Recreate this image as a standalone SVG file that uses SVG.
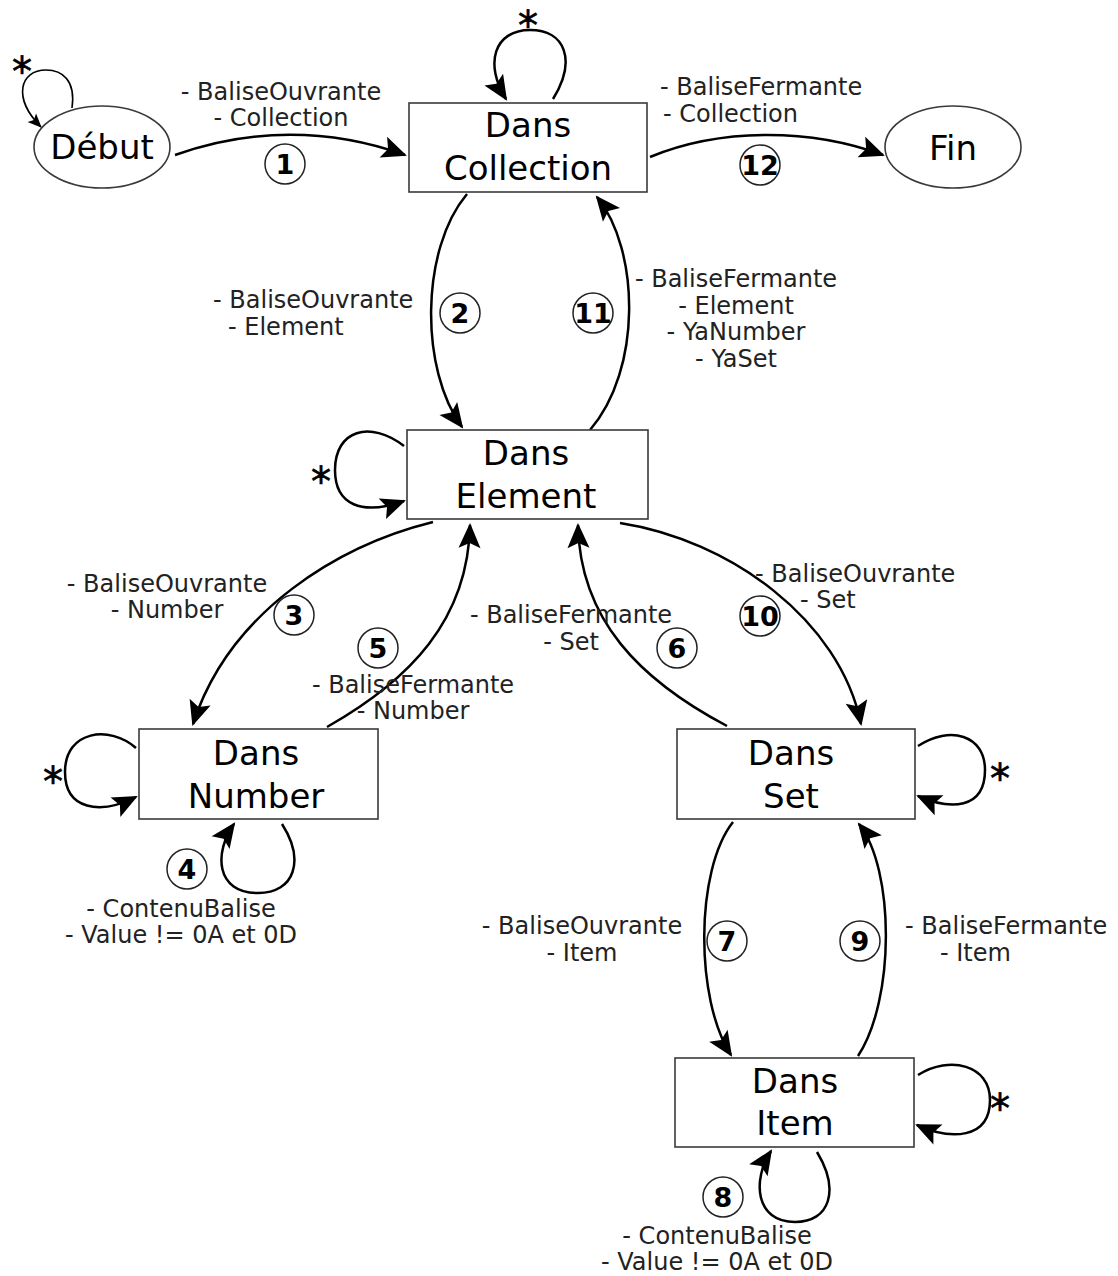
<svg xmlns="http://www.w3.org/2000/svg" width="1118" height="1276" viewBox="0 0 1118 1276">
  <defs>
    <marker id="ah" viewBox="-28 -13 30 26" markerWidth="30" markerHeight="26" refX="-2" refY="0" markerUnits="userSpaceOnUse" orient="auto">
      <path d="M0,0 L-25,-11 L-20,0 L-25,11 Z" fill="#000"/>
    </marker>
    <marker id="ah-s" viewBox="-16 -7 17 14" markerWidth="17" markerHeight="14" refX="-1" refY="0" markerUnits="userSpaceOnUse" orient="auto">
      <path d="M0,0 L-14,-6 L-11,0 L-14,6 Z" fill="#000"/>
    </marker>
    <style>
      .node { fill: #fff; stroke: #3a3a3a; stroke-width: 1.6; }
      .ntext { font-family: "DejaVu Sans", Verdana, sans-serif; font-size: 34px; fill: #000; text-anchor: middle; }
      .edge { fill: none; stroke: #000; stroke-width: 2.5; marker-end: url(#ah); }
      .edge-thin { fill: none; stroke: #000; stroke-width: 1.6; marker-end: url(#ah-s); }
      .lbl { font-family: "DejaVu Sans", Verdana, sans-serif; font-size: 24px; fill: #222; }
      .mid { text-anchor: middle; }
      .num { fill: none; stroke: #222; stroke-width: 1.5; }
      .ntxt { font-family: "DejaVu Sans", Verdana, sans-serif; font-size: 27px; font-weight: bold; fill: #000; text-anchor: middle; }
      .star { font-family: "DejaVu Sans", Verdana, sans-serif; font-size: 40px; fill: #000; text-anchor: middle; stroke: #000; stroke-width: 0.6; }
    </style>
  </defs>
  <rect width="1118" height="1276" fill="#fff"/>

  <!-- connectors -->
  <g id="connectors">
    <!-- Début self loop -->
    <path class="edge-thin" d="M72,108 C76,80 62,70 46,70 C20,70 12,98 41,127"/>
    <!-- 1: Début -> Dans Collection -->
    <path class="edge" d="M175,155 C250,128 330,128 405,155"/>
    <!-- 12: Dans Collection -> Fin -->
    <path class="edge" d="M650,157 C720,128 810,128 883,155"/>
    <!-- Dans Collection self loop -->
    <path class="edge" d="M553,99 C577,60 565,30 530,30 C494,30 484,64 506,99"/>
    <!-- 2: Dans Collection -> Dans Element -->
    <path class="edge" d="M467,194 C420,250 420,370 462,427"/>
    <!-- 11: Dans Element -> Dans Collection -->
    <path class="edge" d="M590,430 C642,370 640,250 597,197"/>
    <!-- Dans Element self loop -->
    <path class="edge" d="M404,446 C370,420 335,430 335,470 C335,505 362,516 404,501"/>
    <!-- 3: Dans Element -> Dans Number -->
    <path class="edge" d="M433,522 C340,545 230,610 193,724"/>
    <!-- 5: Dans Number -> Dans Element -->
    <path class="edge" d="M327,727 C410,680 468,620 470,525"/>
    <!-- 6: Dans Set -> Dans Element -->
    <path class="edge" d="M727,726 C640,680 580,620 578,525"/>
    <!-- 10: Dans Element -> Dans Set -->
    <path class="edge" d="M620,523 C730,540 840,620 861,724"/>
    <!-- Dans Number self loop (left) -->
    <path class="edge" d="M136,748 C110,725 65,730 65,772 C65,810 100,815 136,797"/>
    <!-- 4: Dans Number self loop (bottom) -->
    <path class="edge" d="M282,824 C305,860 295,893 258,893 C215,893 214,852 234,824"/>
    <!-- Dans Set self loop -->
    <path class="edge" d="M918,746 C950,725 985,735 985,770 C985,810 950,810 918,796"/>
    <!-- 7: Dans Set -> Dans Item -->
    <path class="edge" d="M733,822 C695,870 695,1000 731,1055"/>
    <!-- 9: Dans Item -> Dans Set -->
    <path class="edge" d="M858,1056 C895,1000 895,870 859,824"/>
    <!-- Dans Item self loop (right) -->
    <path class="edge" d="M918,1075 C950,1055 990,1065 990,1100 C990,1140 950,1140 917,1125"/>
    <!-- 8: Dans Item self loop (bottom) -->
    <path class="edge" d="M817,1152 C840,1190 830,1222 795,1222 C755,1222 752,1180 771,1151"/>
  </g>

  <!-- nodes -->
  <g id="node-debut">
    <ellipse class="node" cx="102" cy="147" rx="68" ry="41"/>
    <text class="ntext" x="102" y="159">Début</text>
  </g>
  <g id="node-collection">
    <rect class="node" x="409" y="103" width="238" height="89"/>
    <text class="ntext" x="528" y="137">Dans</text>
    <text class="ntext" x="528" y="180">Collection</text>
  </g>
  <g id="node-fin">
    <ellipse class="node" cx="953" cy="147" rx="68" ry="41"/>
    <text class="ntext" x="953" y="160">Fin</text>
  </g>
  <g id="node-element">
    <rect class="node" x="407" y="430" width="241" height="89"/>
    <text class="ntext" x="526" y="465">Dans</text>
    <text class="ntext" x="526" y="508">Element</text>
  </g>
  <g id="node-number">
    <rect class="node" x="139" y="729" width="239" height="90"/>
    <text class="ntext" x="256" y="765">Dans</text>
    <text class="ntext" x="256" y="808">Number</text>
  </g>
  <g id="node-set">
    <rect class="node" x="677" y="729" width="238" height="90"/>
    <text class="ntext" x="791" y="765">Dans</text>
    <text class="ntext" x="791" y="808">Set</text>
  </g>
  <g id="node-item">
    <rect class="node" x="675" y="1058" width="239" height="89"/>
    <text class="ntext" x="795" y="1093">Dans</text>
    <text class="ntext" x="795" y="1135">Item</text>
  </g>

  <!-- self loop marks -->
  <g id="stars">
    <text class="star" x="22" y="86">*</text>
    <text class="star" x="528" y="40">*</text>
    <text class="star" x="321" y="496">*</text>
    <text class="star" x="53" y="796">*</text>
    <text class="star" x="1000" y="793">*</text>
    <text class="star" x="1000" y="1123">*</text>
  </g>

  <!-- transition labels -->
  <g id="labels">
    <text class="lbl mid" x="281" y="100">- BaliseOuvrante</text>
    <text class="lbl mid" x="281" y="126">- Collection</text>

    <text class="lbl" x="660" y="95">- BaliseFermante</text>
    <text class="lbl" x="663" y="122">- Collection</text>

    <text class="lbl" x="213" y="308">- BaliseOuvrante</text>
    <text class="lbl" x="228" y="335">- Element</text>

    <text class="lbl mid" x="736" y="287">- BaliseFermante</text>
    <text class="lbl mid" x="736" y="314">- Element</text>
    <text class="lbl mid" x="736" y="340">- YaNumber</text>
    <text class="lbl mid" x="736" y="367">- YaSet</text>

    <text class="lbl mid" x="167" y="592">- BaliseOuvrante</text>
    <text class="lbl mid" x="167" y="618">- Number</text>

    <text class="lbl mid" x="413" y="693">- BaliseFermante</text>
    <text class="lbl mid" x="413" y="719">- Number</text>

    <text class="lbl mid" x="571" y="623">- BaliseFermante</text>
    <text class="lbl mid" x="571" y="650">- Set</text>

    <text class="lbl" x="755" y="582">- BaliseOuvrante</text>
    <text class="lbl" x="800" y="608">- Set</text>

    <text class="lbl mid" x="181" y="917">- ContenuBalise</text>
    <text class="lbl mid" x="181" y="943">- Value != 0A et 0D</text>

    <text class="lbl mid" x="582" y="934">- BaliseOuvrante</text>
    <text class="lbl mid" x="582" y="961">- Item</text>

    <text class="lbl" x="905" y="934">- BaliseFermante</text>
    <text class="lbl" x="940" y="961">- Item</text>

    <text class="lbl mid" x="717" y="1244">- ContenuBalise</text>
    <text class="lbl mid" x="717" y="1270">- Value != 0A et 0D</text>
  </g>

  <!-- transition numbers -->
  <g id="numbers">
    <circle class="num" cx="285" cy="164" r="20"/><text class="ntxt" x="285" y="174">1</text>
    <circle class="num" cx="460" cy="313" r="20"/><text class="ntxt" x="460" y="323">2</text>
    <circle class="num" cx="294" cy="615" r="20"/><text class="ntxt" x="294" y="625">3</text>
    <circle class="num" cx="187" cy="869" r="20"/><text class="ntxt" x="187" y="879">4</text>
    <circle class="num" cx="378" cy="648" r="20"/><text class="ntxt" x="378" y="658">5</text>
    <circle class="num" cx="677" cy="648" r="20"/><text class="ntxt" x="677" y="658">6</text>
    <circle class="num" cx="727" cy="941" r="20"/><text class="ntxt" x="727" y="951">7</text>
    <circle class="num" cx="723" cy="1197" r="20"/><text class="ntxt" x="723" y="1207">8</text>
    <circle class="num" cx="860" cy="941" r="20"/><text class="ntxt" x="860" y="951">9</text>
    <circle class="num" cx="760" cy="616" r="20"/><text class="ntxt" x="760" y="626">10</text>
    <circle class="num" cx="593" cy="313" r="20"/><text class="ntxt" x="593" y="323">11</text>
    <circle class="num" cx="760" cy="165" r="20"/><text class="ntxt" x="760" y="175">12</text>
  </g>
</svg>
